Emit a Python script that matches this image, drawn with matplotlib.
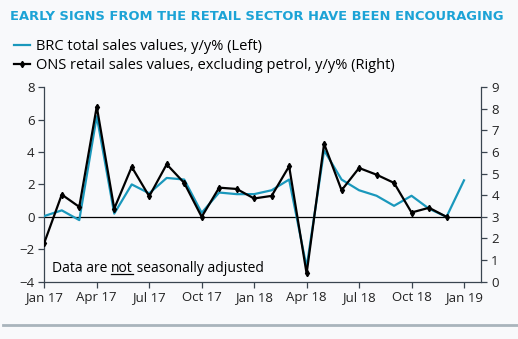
import numpy as np
import matplotlib.pyplot as plt
from matplotlib.lines import Line2D

plt.rcParams['font.family'] = ['Open Sans', 'DejaVu Sans']

# monthly, Jan 17 .. Jan 19
months = np.arange(25)
tick_pos = np.arange(0, 25, 3)
tick_labels = ['Jan 17', 'Apr 17', 'Jul 17', 'Oct 17', 'Jan 18',
               'Apr 18', 'Jul 18', 'Oct 18', 'Jan 19']

# BRC total sales values, y/y% (left axis), Jan 17 .. Jan 19
brc = [0.05, 0.4, -0.2, 6.2, 0.2, 2.0, 1.45, 2.4, 2.3, 0.25, 1.5, 1.4, 1.4,
       1.64, 2.3, -3.1, 4.1, 2.3, 1.64, 1.3, 0.68, 1.3, 0.5, 0.0, 2.25]
# ONS retail sales values ex petrol, y/y% (right axis), Jan 17 .. Dec 18
ons = [1.8, 4.03, 3.46, 8.1, 3.38, 5.31, 3.95, 5.43, 4.57, 3.0, 4.35, 4.29,
       3.85, 3.97, 5.34, 0.38, 6.38, 4.23, 5.26, 4.95, 4.57, 3.2, 3.42, 3.0]

teal = '#1A98BC'
axis_col = '#3A4550'

fig = plt.figure(figsize=(5.18, 3.39), dpi=100, facecolor='#F8F9FB')
ax = fig.add_axes([0.0855, 0.169, 0.844, 0.574])
ax.set_facecolor('none')
ax2 = ax.twinx()

ax.plot(months, brc, color=teal, lw=1.6, zorder=3)
ax.axhline(0, color='black', lw=0.9, zorder=2)
ax2.plot(months[:len(ons)], ons, color='black', lw=1.6, marker='d',
         markersize=3.2, zorder=4)

ax.set_xlim(0, 25)
ax.set_ylim(-4, 8)
ax2.set_ylim(0, 9)
ax.set_yticks(range(-4, 9, 2))
ax2.set_yticks(range(0, 10))
ax.set_xticks(tick_pos)
ax.set_xticklabels(tick_labels)

for a in (ax, ax2):
    for s in a.spines.values():
        s.set_visible(False)
    a.tick_params(colors=axis_col, labelcolor='#222222', labelsize=9.5,
                  length=4, width=0.9, pad=3)
ax.spines['left'].set_visible(True)
ax.spines['bottom'].set_visible(True)
ax2.spines['right'].set_visible(True)
for s in (ax.spines['left'], ax.spines['bottom'], ax2.spines['right']):
    s.set_color(axis_col)
    s.set_linewidth(0.9)
ax2.set_zorder(ax.get_zorder() + 1)
ax2.patch.set_visible(False)

# note with underlined "not"
fig.canvas.draw()
r = fig.canvas.get_renderer()
fs = 10
x0, y0 = 52, 339 - 272
t1 = fig.text(x0 / 518, y0 / 339, 'Data are ', fontsize=fs, color='black')
bb1 = t1.get_window_extent(r)
t2 = fig.text(bb1.x1 / 518, y0 / 339, 'not', fontsize=fs, color='black')
bb2 = t2.get_window_extent(r)
fig.text(bb2.x1 / 518, y0 / 339, ' seasonally adjusted', fontsize=fs, color='black')
fig.add_artist(Line2D([bb2.x0 / 518, bb2.x1 / 518], [(y0 - 1.5) / 339] * 2,
                      color='black', lw=0.9))

fig.text(10 / 518, 1 - 17 / 339, 'EARLY SIGNS FROM THE RETAIL SECTOR HAVE BEEN ENCOURAGING',
         fontsize=9.4, fontweight='bold', color='#1CA3D6', va='center',
         family='DejaVu Sans')

handles = [Line2D([], [], color=teal, lw=1.6),
           Line2D([], [], color='black', lw=1.6, marker='d', markersize=3.2)]
labels = ['BRC total sales values, y/y% (Left)',
          'ONS retail sales values, excluding petrol, y/y% (Right)']
fig.legend(handles, labels, loc='upper left', bbox_to_anchor=(14 / 518, 1 - 39 / 339),
           frameon=False, fontsize=10.5, handlelength=1.1, handletextpad=0.4,
           labelspacing=0.3, borderaxespad=0, borderpad=0)

fig.add_artist(Line2D([3 / 518, 1], [1 - 325 / 339] * 2, color='#A9B4BC', lw=2))

fig.savefig('out.png', dpi=100, facecolor=fig.get_facecolor())
